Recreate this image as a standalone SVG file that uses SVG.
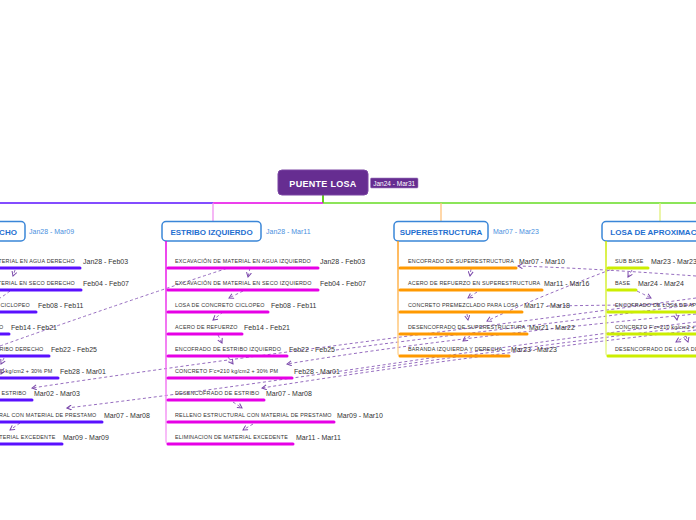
<svg xmlns="http://www.w3.org/2000/svg" width="696" height="520" viewBox="0 0 696 520">
<style>
.root{fill:#662d91;stroke:#7a45a3;stroke-width:1}
.rt{font-family:"Liberation Sans",Arial,sans-serif;font-weight:bold;font-size:9px;letter-spacing:0.3px;fill:#fff}
.rd{font-family:"Liberation Sans",Arial,sans-serif;font-size:6.5px;fill:#fff}
.bx{fill:#fff;stroke:#3a86d8;stroke-width:1.5}
.bt{font-family:"Liberation Sans",Arial,sans-serif;font-weight:bold;font-size:8px;fill:#1f6fd0}
.bd{font-family:"Liberation Sans",Arial,sans-serif;font-size:7px;fill:#4a90e0}
.tl{font-family:"Liberation Sans",Arial,sans-serif;font-size:5.4px;letter-spacing:0.2px;fill:#333}
.td{font-family:"Liberation Sans",Arial,sans-serif;font-size:7px;fill:#333}
.bar{stroke-width:3;stroke-linecap:round;fill:none}
.der{stroke:#5a10ff}
.izq{stroke:#e600e6}
.sup{stroke:#ff9900}
.los{stroke:#ccee00}
.dep{fill:none;stroke:#8a5cb8;stroke-width:0.9;stroke-dasharray:3 2.5}
.dm{marker-end:url(#ah)}
</style>
<defs>
<marker id="ah" markerWidth="6" markerHeight="6" refX="5" refY="3" orient="auto" markerUnits="userSpaceOnUse">
<path d="M0.5,0.5 L5,3 L0.5,5.5" fill="none" stroke="#7a48aa" stroke-width="1"/>
</marker>
<linearGradient id="gIzq" gradientUnits="userSpaceOnUse" x1="0" y1="241" x2="0" y2="445"><stop offset="0" stop-color="#e600e6"/><stop offset="1" stop-color="#f6b0f6"/></linearGradient>
<linearGradient id="gDer" gradientUnits="userSpaceOnUse" x1="0" y1="241" x2="0" y2="445"><stop offset="0" stop-color="#5a10ff"/><stop offset="1" stop-color="#b8a0ff"/></linearGradient>
<linearGradient id="gSup" gradientUnits="userSpaceOnUse" x1="0" y1="241" x2="0" y2="357"><stop offset="0" stop-color="#ff9f20"/><stop offset="1" stop-color="#ffd8a0"/></linearGradient>
<linearGradient id="gLos" gradientUnits="userSpaceOnUse" x1="0" y1="241" x2="0" y2="357"><stop offset="0" stop-color="#cceb00"/><stop offset="1" stop-color="#e8f79a"/></linearGradient>
</defs>

<g id="connectors">
<path d="M323,195 V203" stroke="#66cc22" stroke-width="2" fill="none"/>
<path d="M0,203 H213" stroke="#5a10ff" stroke-width="1.3" fill="none"/>
<path d="M213,203 H323" stroke="#e600e6" stroke-width="1.3" fill="none"/>
<path d="M323,203 H696" stroke="#66dd22" stroke-width="1.3" fill="none"/>
<path d="M213,203 V222" stroke="#f090f0" stroke-width="1.3" fill="none"/>
<path d="M441,203 V222" stroke="#ffc27a" stroke-width="1.3" fill="none"/>
<path d="M660,203 V222" stroke="#e0f07a" stroke-width="1.3" fill="none"/>
<!-- dependencies -->
<path class="dep dm" d="M15,270 L13,276"/>
<path class="dep" d="M10,291 Q5,295 0,298"/>
<path class="dep dm" d="M4,358 L1,364"/>
<path class="dep dm" d="M4,368 L1,374"/>
<path class="dep dm" d="M20,423 L10,430"/>
<path class="dep" d="M0,346 Q115,305 228,268"/>
<path class="dep dm" d="M250,268 L248,277"/>
<path class="dep dm" d="M243,291 L229,298"/>
<path class="dep dm" d="M223,312 L213,320"/>
<path class="dep dm" d="M218,335 L222,343"/>
<path class="dep dm" d="M228,357 L233,364"/>
<path class="dep dm" d="M233,402 L242,408"/>
<path class="dep dm" d="M253,424 L243,430"/>
<path class="dep dm" d="M471,269 L470,276"/>
<path class="dep dm" d="M477,292 L468,298"/>
<path class="dep dm" d="M467,314 L468,320"/>
<path class="dep dm" d="M470,336 L463,341"/>
<path class="dep dm" d="M632,270 L628,277"/>
<path class="dep dm" d="M637,291 Q645,295 651,298"/>
<path class="dep dm" d="M676,313 L677,320"/>
<path class="dep dm" d="M686,336 L676,342"/>
<path class="dep dm" d="M686,336 L688,342"/>
<path class="dep dm" d="M696,276 C640,272 580,268 518,266"/>
<path class="dep dm" d="M615,268 C570,285 520,305 487,321"/>
<path class="dep" d="M547,306 L696,304"/>
<path class="dep dm" d="M696,298 C500,325 250,355 32,388"/>
<path class="dep dm" d="M696,322 C500,345 300,380 67,408"/>
<path class="dep dm" d="M696,330 C550,347 400,366 262,388"/>
<path class="dep dm" d="M696,314 C550,328 400,345 287,364"/>
<path class="dep" d="M336,350 C450,335 600,318 696,304"/>
<path class="dep" d="M344,373 C450,357 600,338 696,326"/>
</g>

<g id="root">
<rect class="root" x="278" y="170" width="90" height="25" rx="4"/>
<text class="rt" x="323" y="186.5" text-anchor="middle">PUENTE LOSA</text>
<rect x="370.5" y="178" width="47.5" height="10" rx="1" fill="#662d91" stroke="#a07cc0" stroke-width="0.6"/>
<text class="rd" x="394.2" y="185.5" text-anchor="middle">Jan24 - Mar31</text>
</g>

<g id="estribo-derecho">
<rect class="bx" x="-69" y="221.5" width="94" height="19.5" rx="4"/>
<text class="bt" x="-22" y="234.5" text-anchor="middle">ESTRIBO DERECHO</text>
<text class="bd" x="29" y="234">Jan28 - Mar09</text>
<path d="M-65,241 V441 Q-65,444 -61,444" stroke="url(#gDer)" stroke-width="1.5" fill="none"/>
<line class="bar der" x1="-64" y1="268" x2="80" y2="268"/><text class="tl" x="75" y="263" text-anchor="end">EXCAVACIÓN DE MATERIAL EN AGUA DERECHO</text><text class="td" x="83" y="264">Jan28 - Feb03</text>
<line class="bar der" x1="-64" y1="290" x2="81" y2="290"/><text class="tl" x="75" y="285" text-anchor="end">EXCAVACIÓN DE MATERIAL EN SECO DERECHO</text><text class="td" x="83" y="286">Feb04 - Feb07</text>
<line class="bar der" x1="-64" y1="312" x2="36" y2="312"/><text class="tl" x="30" y="307" text-anchor="end">LOSA DE CONCRETO CICLOPEO</text><text class="td" x="38" y="308">Feb08 - Feb11</text>
<line class="bar der" x1="-64" y1="334" x2="9" y2="334"/><text class="tl" x="3.5" y="329" text-anchor="end">ACERO DE REFUERZO</text><text class="td" x="11" y="330">Feb14 - Feb21</text>
<line class="bar der" x1="-64" y1="356" x2="49" y2="356"/><text class="tl" x="43.5" y="351" text-anchor="end">ENCOFRADO DE ESTRIBO DERECHO</text><text class="td" x="51" y="352">Feb22 - Feb25</text>
<line class="bar der" x1="-64" y1="378" x2="58" y2="378"/><text class="tl" x="52.5" y="373" text-anchor="end">CONCRETO F'c=210 kg/cm2 + 30% PM</text><text class="td" x="60" y="374">Feb28 - Mar01</text>
<line class="bar der" x1="-64" y1="400" x2="32" y2="400"/><text class="tl" x="26.5" y="395" text-anchor="end">DESENCOFRADO DE ESTRIBO</text><text class="td" x="34" y="396">Mar02 - Mar03</text>
<line class="bar der" x1="-64" y1="422" x2="102" y2="422"/><text class="tl" x="96.5" y="417" text-anchor="end">RELLENO ESTRUCTURAL CON MATERIAL DE PRESTAMO</text><text class="td" x="104" y="418">Mar07 - Mar08</text>
<line class="bar der" x1="-64" y1="444" x2="62" y2="444"/><text class="tl" x="55.5" y="439" text-anchor="end">ELIMINACION DE MATERIAL EXCEDENTE</text><text class="td" x="63" y="440">Mar09 - Mar09</text>
</g>

<g id="estribo-izquierdo">
<rect class="bx" x="162" y="221.5" width="99" height="19.5" rx="4"/>
<text class="bt" x="211.5" y="234.5" text-anchor="middle">ESTRIBO IZQUIERDO</text>
<text class="bd" x="266" y="234">Jan28 - Mar11</text>
<path d="M166,241 V441 Q166,444 170,444" stroke="url(#gIzq)" stroke-width="1.5" fill="none"/>
<line class="bar izq" x1="168" y1="268" x2="318" y2="268"/><text class="tl" x="175" y="263">EXCAVACIÓN DE MATERIAL EN AGUA IZQUIERDO</text><text class="td" x="320" y="264">Jan28 - Feb03</text>
<line class="bar izq" x1="168" y1="290" x2="318" y2="290"/><text class="tl" x="175" y="285">EXCAVACIÓN DE MATERIAL EN SECO IZQUIERDO</text><text class="td" x="320" y="286">Feb04 - Feb07</text>
<line class="bar izq" x1="168" y1="312" x2="268" y2="312"/><text class="tl" x="175" y="307">LOSA DE CONCRETO CICLOPEO</text><text class="td" x="271" y="308">Feb08 - Feb11</text>
<line class="bar izq" x1="168" y1="334" x2="242" y2="334"/><text class="tl" x="175" y="329">ACERO DE REFUERZO</text><text class="td" x="244" y="330">Feb14 - Feb21</text>
<line class="bar izq" x1="168" y1="356" x2="287" y2="356"/><text class="tl" x="175" y="351">ENCOFRADO DE ESTRIBO IZQUIERDO</text><text class="td" x="289" y="352">Feb22 - Feb25</text>
<line class="bar izq" x1="168" y1="378" x2="292" y2="378"/><text class="tl" x="175" y="373">CONCRETO F'c=210 kg/cm2  + 30% PM</text><text class="td" x="294" y="374">Feb28 - Mar01</text>
<line class="bar izq" x1="168" y1="400" x2="264" y2="400"/><text class="tl" x="175" y="395">DESENCOFRADO DE ESTRIBO</text><text class="td" x="266" y="396">Mar07 - Mar08</text>
<line class="bar izq" x1="168" y1="422" x2="334" y2="422"/><text class="tl" x="175" y="417">RELLENO ESTRUCTURAL CON MATERIAL DE PRESTAMO</text><text class="td" x="337" y="418">Mar09 - Mar10</text>
<line class="bar izq" x1="168" y1="444" x2="293" y2="444"/><text class="tl" x="175" y="439">ELIMINACION DE MATERIAL EXCEDENTE</text><text class="td" x="296" y="440">Mar11 - Mar11</text>
</g>

<g id="superestructura">
<rect class="bx" x="394" y="221.5" width="94" height="19.5" rx="4"/>
<text class="bt" x="441" y="234.5" text-anchor="middle">SUPERESTRUCTURA</text>
<text class="bd" x="493" y="234">Mar07 - Mar23</text>
<path d="M398,241 V353 Q398,356 402,356" stroke="url(#gSup)" stroke-width="1.5" fill="none"/>
<line class="bar sup" x1="400" y1="268" x2="516" y2="268"/><text class="tl" x="408" y="263">ENCOFRADO DE SUPERESTRUCTURA</text><text class="td" x="519" y="264">Mar07 - Mar10</text>
<line class="bar sup" x1="400" y1="290" x2="542" y2="290"/><text class="tl" x="408" y="285">ACERO DE REFUERZO EN SUPERESTRUCTURA</text><text class="td" x="544" y="286">Mar11 - Mar16</text>
<line class="bar sup" x1="400" y1="312" x2="522" y2="312"/><text class="tl" x="408" y="307">CONCRETO PREMEZCLADO PARA LOSA</text><text class="td" x="524" y="308">Mar17 - Mar18</text>
<line class="bar sup" x1="400" y1="334" x2="527" y2="334"/><text class="tl" x="408" y="329">DESENCOFRADO DE SUPERESTRUCTURA</text><text class="td" x="529" y="330">Mar21 - Mar22</text>
<line class="bar sup" x1="400" y1="356" x2="509" y2="356"/><text class="tl" x="408" y="351">BARANDA IZQUIERDA Y DERECHA</text><text class="td" x="511" y="352">Mar23 - Mar23</text>
</g>

<g id="losa-de-aproximacion">
<rect class="bx" x="602" y="221.5" width="117" height="19.5" rx="4"/>
<text class="bt" x="660.5" y="234.5" text-anchor="middle">LOSA DE APROXIMACION</text>
<path d="M606,241 V353 Q606,356 610,356" stroke="url(#gLos)" stroke-width="1.5" fill="none"/>
<line class="bar los" x1="608" y1="268" x2="648" y2="268"/><text class="tl" x="615" y="263">SUB BASE</text><text class="td" x="651" y="264">Mar23 - Mar23</text>
<line class="bar los" x1="608" y1="290" x2="636" y2="290"/><text class="tl" x="615" y="285">BASE</text><text class="td" x="638" y="286">Mar24 - Mar24</text>
<line class="bar los" x1="608" y1="312" x2="760" y2="312"/><text class="tl" x="615" y="307">ENCOFRADO DE LOSA DE APROXIMACION</text>
<line class="bar los" x1="608" y1="334" x2="760" y2="334"/><text class="tl" x="615" y="329">CONCRETO F'c=210 kg/cm2 + 30% PM</text>
<line class="bar los" x1="608" y1="356" x2="760" y2="356"/><text class="tl" x="615" y="351">DESENCOFRADO DE LOSA DE APROXIMACION</text>
</g>
</svg>
